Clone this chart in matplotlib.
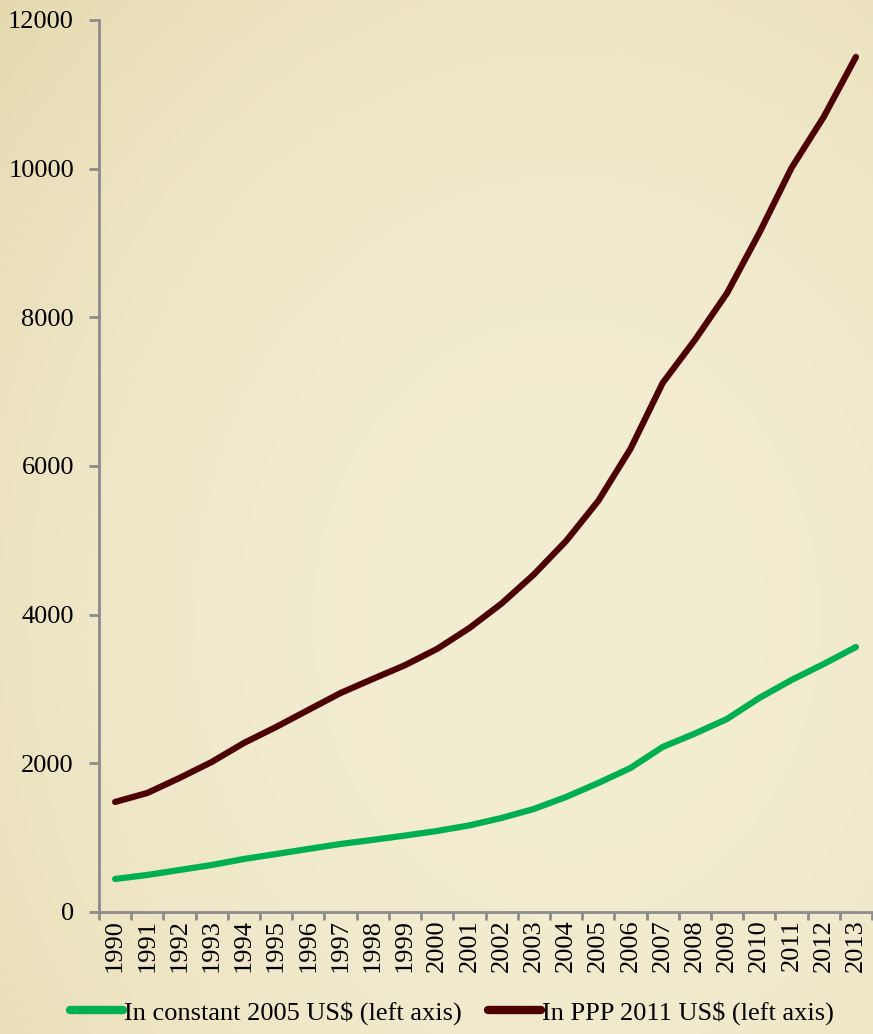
import numpy as np
import matplotlib
matplotlib.use("Agg")
from matplotlib import pyplot as plt

years = [str(y) for y in range(1990, 2014)]
constant_2005 = [444, 498, 565, 632, 713, 780, 848, 915, 970, 1028, 1090, 1165,
                 1265, 1386, 1547, 1735, 1937, 2220, 2400, 2597, 2879, 3121, 3336, 3565]
ppp_2011 = [1480, 1601, 1803, 2018, 2274, 2489, 2718, 2946, 3135, 3320, 3540, 3820,
            4150, 4540, 4990, 5530, 6230, 7117, 7695, 8327, 9135, 10010, 10696, 11503]
y_ticks = [0, 2000, 4000, 6000, 8000, 10000, 12000]
series_names = ["In constant 2005 US$ (left axis)", "In PPP 2011 US$ (left axis)"]

plt.rcParams["font.family"] = ["Liberation Serif", "DejaVu Serif"]

fig = plt.figure(figsize=(8.73, 10.34), dpi=100)

# parchment-like backdrop: pale cream, a little warmer toward the lower left
bg = fig.add_axes([0, 0, 1, 1], zorder=-10)
yy, xx = np.mgrid[0:1:200j, 0:1:200j]
r = np.sqrt((xx - 0.65) ** 2 + (yy - 0.6) ** 2)
shade = np.clip(r / 0.95, 0, 1) ** 2.2
c_in = np.array([243, 237, 210]) / 255
c_out = np.array([228, 214, 170]) / 255
img = c_in[None, None, :] * (1 - shade[..., None]) + c_out[None, None, :] * shade[..., None]
bg.imshow(img, aspect="auto", extent=[0, 1, 0, 1], interpolation="bicubic")
bg.axis("off")

ax = fig.add_axes([0.1134, 0.118, 0.8855, 0.8627])
ax.patch.set_alpha(0)

x = np.arange(len(years))
ax.plot(x, constant_2005, color="#00b050", lw=4.5, solid_capstyle="round",
        solid_joinstyle="round", label=series_names[0])
ax.plot(x, ppp_2011, color="#4d0000", lw=4.5, solid_capstyle="round",
        solid_joinstyle="round", label=series_names[1])

ax.set_xlim(-0.5, len(years) - 0.5)
ax.set_ylim(0, 12000)
ax.set_yticks(y_ticks)
ax.set_yticklabels([str(v) for v in y_ticks], fontsize=19)

# tick marks between categories, labels at centres
ax.set_xticks(np.arange(len(years) + 1) - 0.5)
ax.set_xticklabels([])
ax.set_xticks(x, minor=True)
ax.set_xticklabels(years, minor=True, rotation=90, fontsize=19)
ax.tick_params(axis="x", which="minor", length=0, pad=5)
ax.tick_params(axis="x", which="major", length=6, width=2, color="#8c8c8c", direction="out")
ax.tick_params(axis="y", length=7, width=2, color="#8c8c8c", pad=11)

for side in ["top", "right"]:
    ax.spines[side].set_visible(False)
for side in ["left", "bottom"]:
    ax.spines[side].set_color("#8c8c8c")
    ax.spines[side].set_linewidth(2)

leg = fig.legend(loc="lower center", bbox_to_anchor=(0.518, -0.014), ncol=2, frameon=False,
                 fontsize=19, handlelength=2.0, handletextpad=0.05, columnspacing=1.0)
for h in leg.legend_handles:
    h.set_linewidth(6)

fig.savefig("out.png", dpi=100)
